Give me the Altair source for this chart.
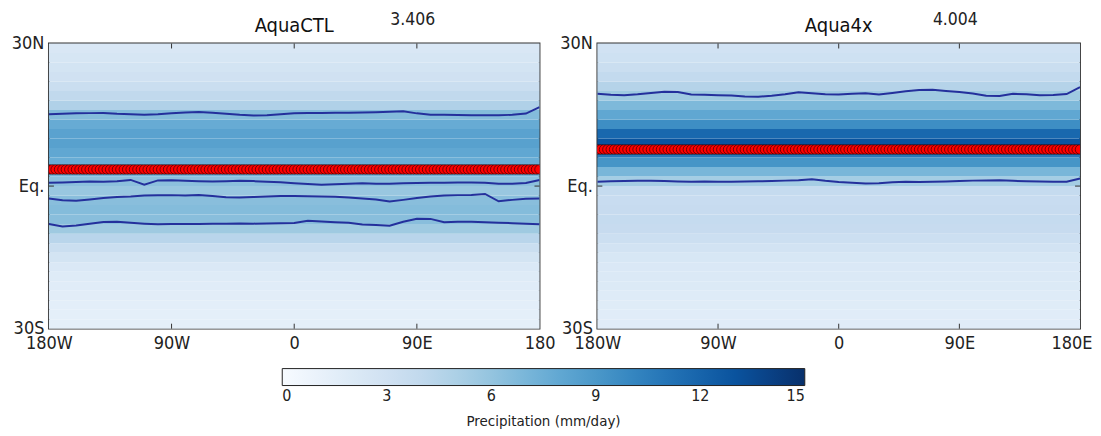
import altair as alt
import pandas as pd

# ---------------- data ----------------
# latitude band centres (2 degree bands) and zonal-mean precipitation (mm/day)
lat_centers = [-29, -27, -25, -23, -21, -19, -17, -15, -13, -11, -9, -7, -5, -3, -1,
               1, 3, 5, 7, 9, 11, 13, 15, 17, 19, 21, 23, 25, 27, 29]
ctl_precip = [1.4, 1.4, 1.5, 1.6, 1.7, 1.9, 2.2, 2.7, 3.4, 4.4, 5.6, 6.4, 6.6, 6.4, 5.8,
              6.3, 7.2, 7.6, 8.0, 8.4, 8.3, 7.7, 6.6, 4.8, 4.0, 3.4, 3.0, 2.7, 2.5, 2.3]
x4_precip = [1.7, 1.7, 1.8, 1.9, 2.0, 2.1, 2.2, 2.4, 2.8, 3.3, 3.7, 3.8, 3.7, 3.6, 3.8,
             5.3, 7.0, 9.2, 10.8, 13.0, 11.8, 9.6, 8.0, 6.8, 5.6, 4.6, 3.9, 3.4, 3.1, 2.9]

# contour lines: latitude at each 10-degree longitude
contour_lons = [-180, -170, -160, -150, -140, -130, -120, -110, -100, -90, -80, -70, -60,
                -50, -40, -30, -20, -10, 0, 10, 20, 30, 40, 50, 60, 70, 80, 90, 100,
                110, 120, 130, 140, 150, 160, 170, 180]
ctl_contour_a = [15.1, 15.2, 15.3, 15.35, 15.38, 15.2, 15.1, 15.03, 15.1, 15.3, 15.5, 15.59,
                 15.45, 15.24, 15.0, 14.85, 14.9, 15.1, 15.3, 15.38, 15.4, 15.42, 15.45, 15.5,
                 15.55, 15.65, 15.73, 15.3, 15.0, 15.0, 14.95, 14.9, 14.88, 14.89, 15.0, 15.25, 16.6]
ctl_contour_b = [0.7, 0.75, 0.85, 0.95, 0.9, 1.0, 1.3, 0.3, 1.2, 1.25, 1.1, 1.0, 0.95, 1.0,
                 1.1, 1.05, 0.9, 0.8, 0.6, 0.45, 0.3, 0.4, 0.5, 0.6, 0.5, 0.5, 0.6, 0.65, 0.7,
                 0.7, 0.75, 0.75, 0.7, 0.5, 0.5, 0.65, 1.3]
ctl_contour_c = [-2.6, -3.0, -3.1, -2.8, -2.5, -2.3, -2.2, -2.0, -1.95, -1.9, -2.0, -1.9,
                 -2.1, -2.35, -2.4, -2.3, -2.2, -2.1, -2.1, -2.15, -2.2, -2.25, -2.4, -2.6,
                 -2.8, -3.25, -2.9, -2.5, -2.2, -2.0, -1.9, -1.85, -1.65, -3.2, -2.9, -2.65, -2.6]
ctl_contour_d = [-7.97, -8.5, -8.3, -7.9, -7.55, -7.5, -7.7, -7.9, -8.05, -8.0, -7.95, -7.95,
                 -7.9, -7.9, -7.85, -7.9, -7.85, -7.8, -7.75, -7.3, -7.45, -7.6, -7.7, -8.1,
                 -8.2, -8.35, -7.5, -6.85, -6.9, -7.6, -7.5, -7.5, -7.6, -7.7, -7.8, -7.9, -8.05]
x4_contour_a = [19.44, 19.2, 19.1, 19.3, 19.6, 19.85, 19.8, 19.25, 19.2, 19.1, 19.05, 18.85,
                18.8, 19.0, 19.3, 19.75, 19.55, 19.3, 19.25, 19.45, 19.55, 19.25, 19.6, 19.95,
                20.2, 20.25, 20.0, 19.8, 19.5, 19.0, 18.95, 19.4, 19.3, 19.1, 19.15, 19.35, 20.8]
x4_contour_b = [0.9, 1.0, 1.05, 1.1, 1.12, 1.05, 0.95, 0.9, 0.95, 0.9, 0.9, 0.95, 1.0, 1.05,
                1.15, 1.25, 1.45, 1.1, 0.85, 0.7, 0.56, 0.6, 0.8, 0.9, 0.85, 0.9, 0.95, 1.05,
                1.15, 1.2, 1.25, 1.1, 1.0, 0.95, 0.9, 0.9, 1.6]

# latitude of maximum precipitation (red markers), one per model longitude
dot_lons = [-180 + 2.5 * i for i in range(145)]
ctl_max_lat = 3.5
x4_max_lat = 7.7

titles = ["AquaCTL", "Aqua4x"]
global_means = ["3.406", "4.004"]

x_tick_values = [-180, -90, 0, 90, 180]
y_tick_values = [-30, 0, 30]
colorbar_values = [0, 3, 6, 9, 12, 15]
blues_stops = [0, 1.875, 3.75, 5.625, 7.5, 9.375, 11.25, 13.125, 15]
blues_colors = ["#f7fbff", "#deebf7", "#c6dbef", "#9ecae1", "#6baed6",
                "#4292c6", "#2171b5", "#08519c", "#08306b"]

FONT = "DejaVu Sans Condensed, DejaVu Sans"
TXT = "#222222"


def panel(profile, contours, max_lat, title, mean_txt, width, last_label, flush_last):
    heat = pd.DataFrame({
        "lat_lo": [c - 1 for c in lat_centers],
        "lat_hi": [c + 1 for c in lat_centers],
        "lon_lo": [-180] * len(lat_centers),
        "lon_hi": [180] * len(lat_centers),
        "precip": profile,
    })
    rows = []
    for cid, lats in enumerate(contours):
        for lon, lat in zip(contour_lons, lats):
            rows.append({"lon": lon, "lat": lat, "cid": cid})
    cont = pd.DataFrame(rows)
    dots = pd.DataFrame({"lon": dot_lons, "lat": [max_lat] * len(dot_lons)})
    ticks = pd.DataFrame({
        "x": [-90, 0, 90, -90, 0, 90, -180, 180],
        "x2": [-90, 0, 90, -90, 0, 90, -176.3, 176.3],
        "y": [-30, -30, -30, 30, 30, 30, 0, 0],
        "y2": [-28.95, -28.95, -28.95, 28.95, 28.95, 28.95, 0, 0],
    })
    title_df = pd.DataFrame({"lon": [0], "lat": [33.7], "txt": [title]})
    note = pd.DataFrame({"lon": [87], "lat": [35.0], "txt": [mean_txt]})

    xscale = alt.Scale(domain=[-180, 180], nice=False, zero=False)
    yscale = alt.Scale(domain=[-30, 30], nice=False, zero=False)
    lab = ("datum.value == -180 ? '180W' : datum.value == -90 ? '90W' : "
           "datum.value == 0 ? '0' : datum.value == 90 ? '90E' : '" + last_label + "'")
    if flush_last:
        align = alt.condition("datum.value == 180", alt.value("right"), alt.value("center"))
        offs = alt.condition("datum.value == 180", alt.value(12), alt.value(0))
    else:
        align = "center"
        offs = 0
    xaxis = alt.Axis(values=x_tick_values, labelExpr=lab, title=None, ticks=False,
                     domain=False, grid=False, labelFlush=False, labelOverlap=False,
                     labelFont=FONT, labelFontSize=18, labelColor=TXT, labelPadding=6,
                     labelAlign=align, labelOffset=offs)
    yaxis = alt.Axis(values=y_tick_values,
                     labelExpr="datum.value == 30 ? '30N' : datum.value == 0 ? 'Eq.' : '30S'",
                     title=None, ticks=False, domain=False, grid=False, labelFlush=False,
                     labelOverlap=False, labelFont=FONT, labelFontSize=18, labelColor=TXT,
                     labelPadding=5)

    base_heat = alt.Chart(heat).mark_rect().encode(
        x=alt.X("lon_lo:Q", scale=xscale, axis=xaxis),
        x2="lon_hi:Q",
        y=alt.Y("lat_lo:Q", scale=yscale, axis=yaxis),
        y2="lat_hi:Q",
        color=alt.Color("precip:Q",
                        scale=alt.Scale(domain=blues_stops, range=blues_colors),
                        legend=alt.Legend(
                            orient="none", legendX=234, legendY=326,
                            direction="horizontal", gradientLength=524,
                            gradientThickness=17, values=colorbar_values,
                            title="Precipitation (mm/day)", titleOrient="bottom",
                            titleAnchor="middle", titleFont=FONT, titleFontSize=15,
                            titleFontWeight="normal", titleColor=TXT, titlePadding=10,
                            labelFont=FONT, labelFontSize=16, labelColor=TXT,
                            labelAlign="center", labelOffset=3,
                            gradientStrokeColor="#222222", gradientStrokeWidth=1)),
    )
    lines = alt.Chart(cont).mark_line(color="#24309c", strokeWidth=2, clip=True).encode(
        x="lon:Q", y="lat:Q", detail="cid:N")
    pts = alt.Chart(dots).mark_circle(size=92, color="#ff0000", stroke="#1a0000",
                                      strokeWidth=0.6, opacity=1, clip=True).encode(
        x="lon:Q", y="lat:Q")
    tk = alt.Chart(ticks).mark_rule(color="#333333", strokeWidth=1).encode(
        x="x:Q", x2="x2:Q", y="y:Q", y2="y2:Q")
    ttl = alt.Chart(title_df).mark_text(font=FONT, fontSize=20, color="#111111",
                                        baseline="middle", align="center").encode(
        x="lon:Q", y="lat:Q", text="txt:N")
    txt = alt.Chart(note).mark_text(font=FONT, fontSize=17.5, color=TXT,
                                    baseline="middle", align="center").encode(
        x="lon:Q", y="lat:Q", text="txt:N")

    return alt.layer(base_heat, lines, pts, tk, ttl, txt).properties(
        width=width, height=286)


left = panel(ctl_precip, [ctl_contour_a, ctl_contour_b, ctl_contour_c, ctl_contour_d],
             ctl_max_lat, titles[0], global_means[0], 492, "180", False)
right = panel(x4_precip, [x4_contour_a, x4_contour_b], x4_max_lat, titles[1],
              global_means[1], 484, "180E", True)

chart = alt.hconcat(left, right, spacing=58, bounds="flush").properties(
    padding={"left": 2, "top": 1, "right": 0, "bottom": 0}
).configure_view(stroke="#333333", strokeWidth=1.8)

chart.save("out.html", embed_options={"renderer": "svg", "actions": False})
